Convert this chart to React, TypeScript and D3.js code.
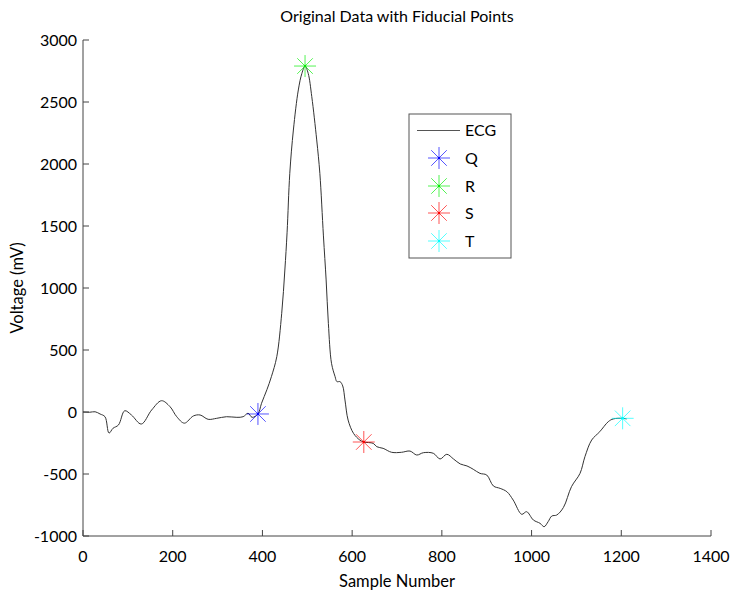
import React from "react";
import * as d3 from "d3";

const sampleIdx = [0, 15, 27, 38, 49, 58, 67, 79, 93, 108, 130, 153, 175, 194, 209, 226, 246, 261, 279, 298, 320, 343, 357, 368, 377, 390, 398, 410, 420, 432, 443, 450, 455, 461, 469, 480, 488, 495, 502, 510, 521, 528, 536, 542, 547, 554, 562, 566, 573, 579, 584, 591, 603, 617, 626, 647, 655, 669, 688, 710, 729, 744, 759, 781, 796, 811, 826, 841, 856, 870, 885, 900, 915, 930, 945, 959, 978, 989, 1004, 1019, 1028, 1037, 1045, 1056, 1071, 1089, 1108, 1119, 1134, 1152, 1171, 1182, 1203, 1212];
const ecgValues = [0, -2, 2, -16, -38, -170, -131, -105, 10, -24, -97, 16, 91, 43, -38, -90, -32, -24, -59, -51, -38, -43, -38, -10, -43, -16, 70, 180, 285, 446, 796, 1145, 1450, 1925, 2274, 2597, 2731, 2790, 2731, 2543, 2194, 1925, 1420, 1065, 715, 393, 285, 245, 245, 210, 97, -65, -172, -226, -242, -253, -280, -293, -325, -325, -315, -347, -328, -333, -379, -341, -379, -419, -435, -462, -495, -508, -597, -616, -643, -710, -825, -804, -871, -898, -925, -884, -839, -831, -770, -602, -495, -360, -226, -159, -78, -56, -51, -56];

const fiducialNames = ["Q", "R", "S", "T"];
const fiducialX = [390, 495, 626, 1203];
const fiducialY = [-16, 2790, -242, -51];
const fiducialColors = ["#0000ff", "#00ee00", "#ff0000", "#00ffff"];

const xTicks = [0, 200, 400, 600, 800, 1000, 1200, 1400];
const yTicks = [-1000, -500, 0, 500, 1000, 1500, 2000, 2500, 3000];

const FONT = "Lato, 'Open Sans', sans-serif";

function Asterisk({ cx, cy, color, r = 11 }: { cx: number; cy: number; color: string; r?: number }) {
  const d = r * 0.7071;
  return (
    <g stroke={color} strokeWidth={0.9} strokeOpacity={0.75}>
      <line x1={cx - r} y1={cy} x2={cx + r} y2={cy} />
      <line x1={cx} y1={cy - r} x2={cx} y2={cy + r} />
      <line x1={cx - d} y1={cy - d} x2={cx + d} y2={cy + d} />
      <line x1={cx - d} y1={cy + d} x2={cx + d} y2={cy - d} />
      <circle cx={cx} cy={cy} r={1.2} fill={color} stroke="none" />
    </g>
  );
}

export default function App() {
  const W = 731, H = 596;
  const left = 83, right = 711, top = 40, bottom = 536;
  const x = d3.scaleLinear().domain([0, 1400]).range([left, right]);
  const y = d3.scaleLinear().domain([-1000, 3000]).range([bottom, top]);
  const pts: [number, number][] = sampleIdx.map((s, i) => [s, ecgValues[i]]);
  const line = d3
    .line<[number, number]>()
    .x((d) => x(d[0]))
    .y((d) => y(d[1]))
    .curve(d3.curveCatmullRom.alpha(0.5));
  const axisColor = "#444";
  const legX = 409, legY = 114, legW = 102, legH = 144;
  const rowY = [158, 186, 213, 241];
  return (
    <svg width={W} height={H} style={{ display: "block", position: "absolute", left: 0, top: 0, background: "#fff" }} fontFamily={FONT}>
      <rect x={0} y={0} width={W} height={H} fill="#fff" />
      <text x={(left + right) / 2} y={22} textAnchor="middle" fontSize={16} fill="#000">
        Original Data with Fiducial Points
      </text>
      {/* axes */}
      <line x1={left} y1={top} x2={left} y2={bottom} stroke={axisColor} strokeWidth={1} />
      <line x1={left} y1={bottom} x2={right} y2={bottom} stroke={axisColor} strokeWidth={1} />
      {xTicks.map((t) => (
        <g key={"x" + t}>
          <line x1={x(t)} y1={bottom} x2={x(t)} y2={bottom - 6} stroke={axisColor} />
          <text x={x(t)} y={562} textAnchor="middle" fontSize={16} fill="#000">
            {t}
          </text>
        </g>
      ))}
      {yTicks.map((t) => (
        <g key={"y" + t}>
          <line x1={left} y1={y(t)} x2={left + 6} y2={y(t)} stroke={axisColor} />
          <text x={77} y={y(t)} dy="0.36em" textAnchor="end" fontSize={16} fill="#000">
            {t}
          </text>
        </g>
      ))}
      <text x={(left + right) / 2} y={587} textAnchor="middle" fontSize={16.5} fill="#000">
        Sample Number
      </text>
      <text transform={`translate(23,${(top + bottom) / 2}) rotate(-90)`} textAnchor="middle" fontSize={16.5} fill="#000">
        Voltage (mV)
      </text>
      {/* ECG line */}
      <path d={line(pts) || ""} fill="none" stroke="#333" strokeWidth={1} />
      {fiducialX.map((fx, i) => (
        <Asterisk key={fiducialNames[i]} cx={x(fx)} cy={y(fiducialY[i])} color={fiducialColors[i]} />
      ))}
      {/* legend */}
      <rect x={legX} y={legY} width={legW} height={legH} fill="#fff" stroke="#555" strokeWidth={1} />
      <line x1={417} y1={130.5} x2={460} y2={130.5} stroke="#555" strokeWidth={1} />
      <text x={465} y={130.5} dy="0.36em" fontSize={16} fill="#000">ECG</text>
      {fiducialNames.map((n, i) => (
        <g key={"leg" + n}>
          <Asterisk cx={439} cy={rowY[i]} color={fiducialColors[i]} />
          <text x={465} y={rowY[i]} dy="0.36em" fontSize={16} fill="#000">
            {n}
          </text>
        </g>
      ))}
    </svg>
  );
}
